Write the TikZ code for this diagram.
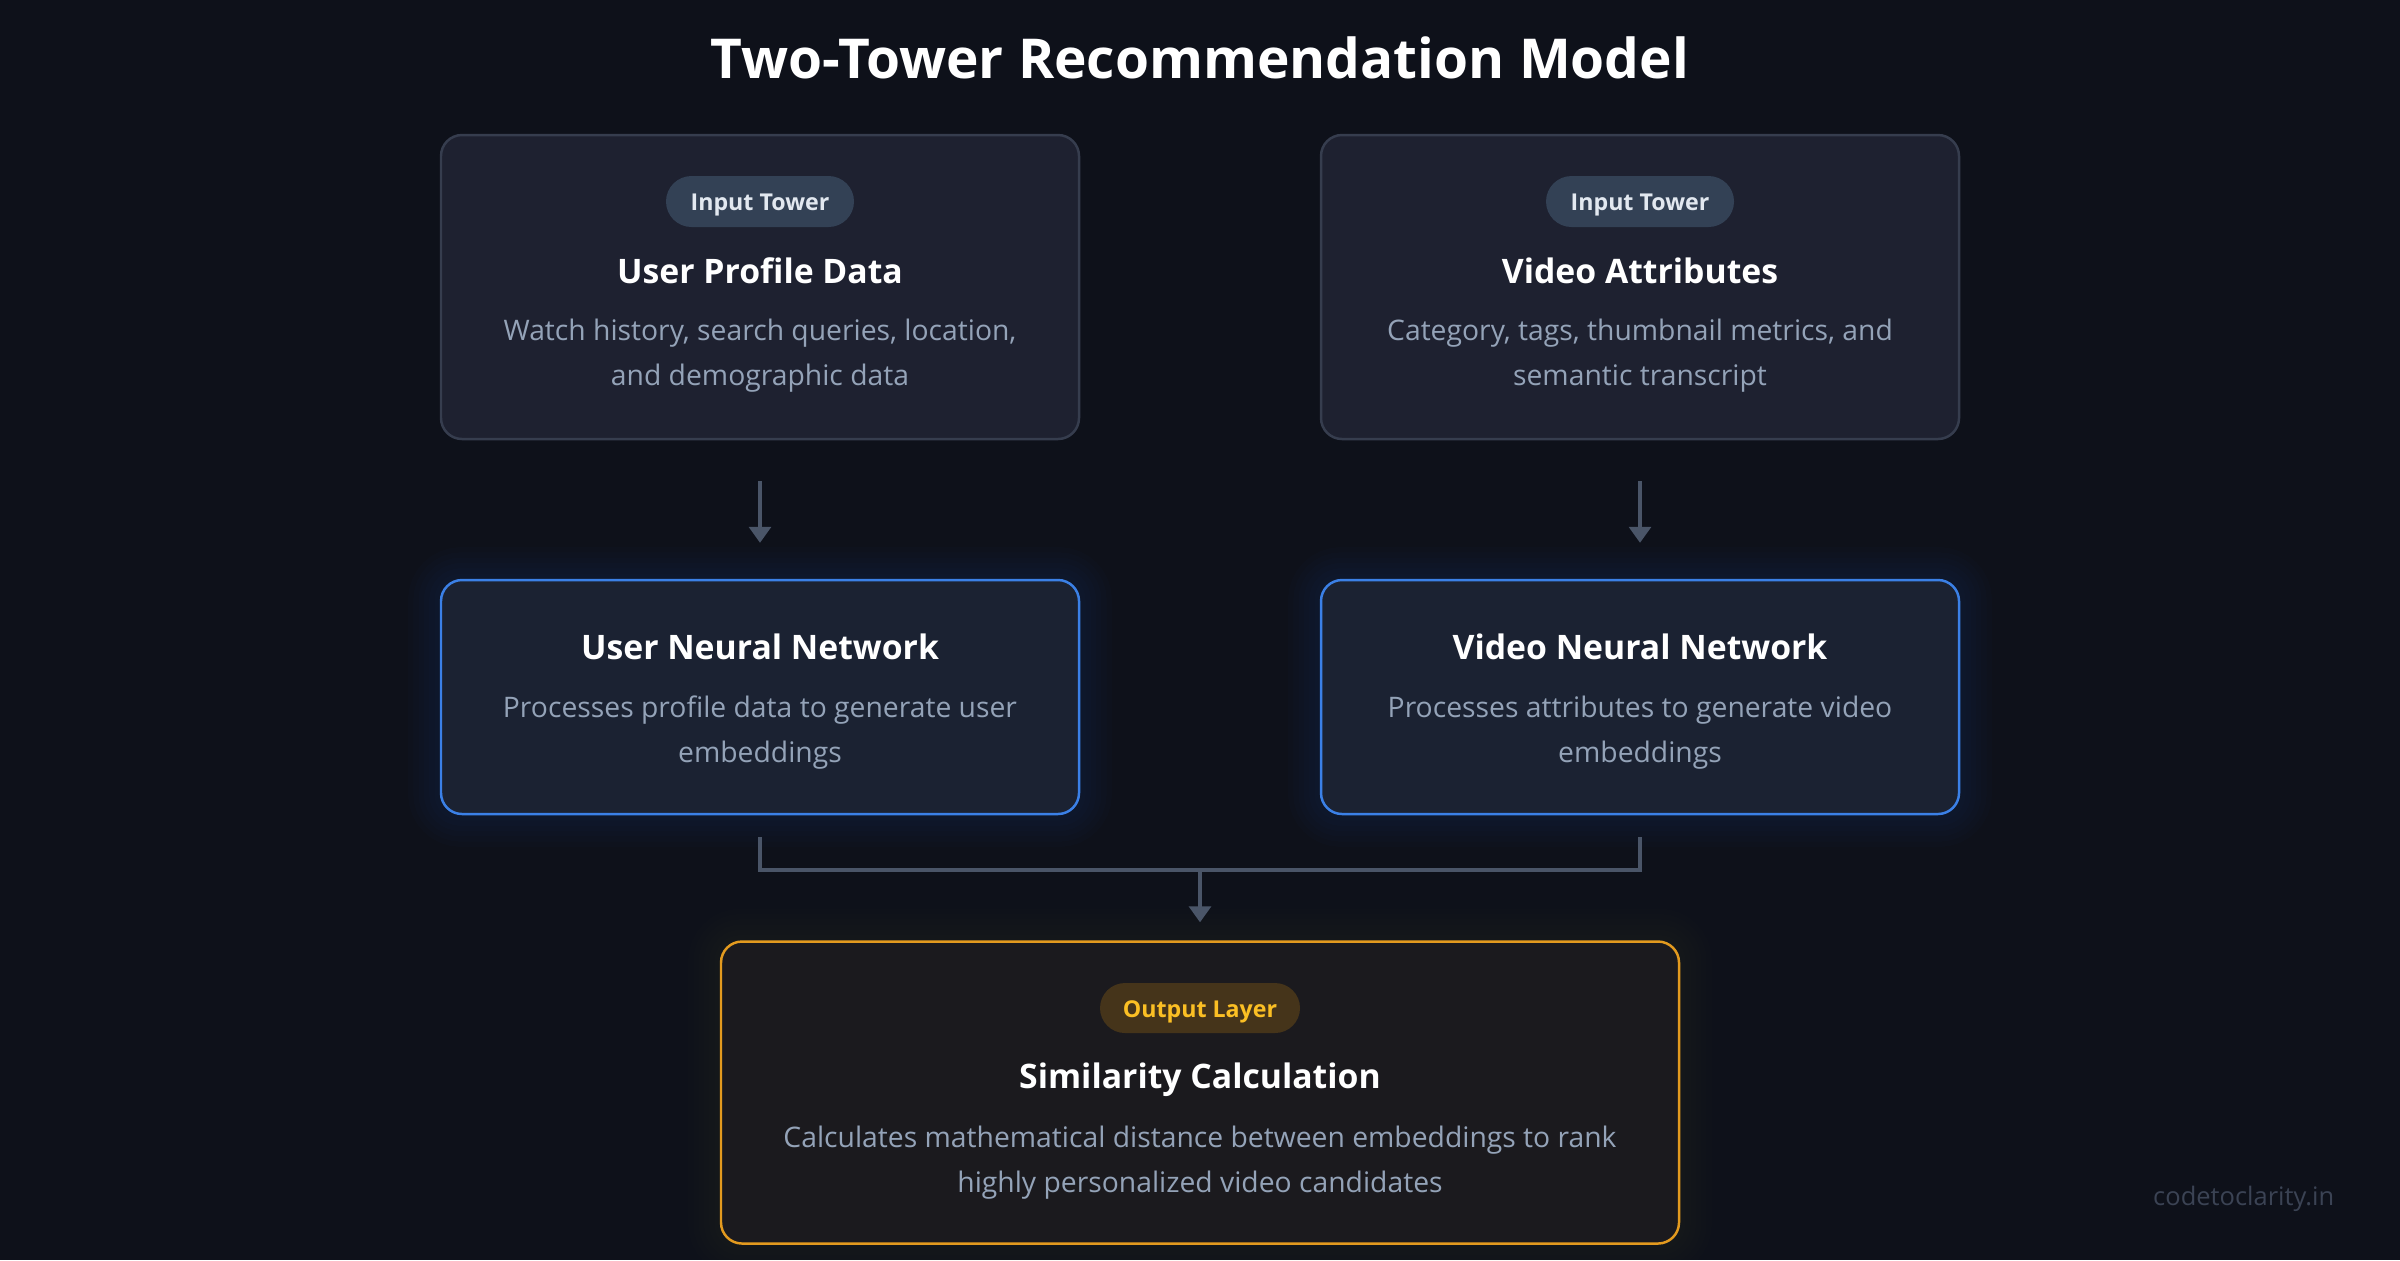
\documentclass[tikz,border=0pt]{standalone}
\usepackage{fontspec}
\setmainfont{Open Sans}
\usepackage{tikz}
\usetikzlibrary{positioning, arrows.meta}

\definecolor{bgdark}{HTML}{0E111A}
\definecolor{cardfill}{HTML}{1E2130}
\definecolor{cardline}{HTML}{363D4E}
\definecolor{netfill}{HTML}{1B2232}
\definecolor{netline}{HTML}{3B80E6}
\definecolor{outfill}{HTML}{1B1A1E}
\definecolor{amberline}{HTML}{E39A1F}
\definecolor{pillfill}{HTML}{334155}
\definecolor{pilltext}{HTML}{E2E8F0}
\definecolor{amberpill}{HTML}{45341A}
\definecolor{ambertext}{HTML}{FBBF24}
\definecolor{desctext}{HTML}{94A3B8}
\definecolor{linkgray}{HTML}{4A5568}
\definecolor{markgray}{HTML}{3B4354}

\pgfdeclarelayer{bglayer}
\pgfdeclarelayer{glowlayer}
\pgfsetlayers{bglayer,glowlayer,main}

\begin{document}
\begin{tikzpicture}[x=1cm, y=1cm,
  card/.style={draw=cardline, fill=cardfill, line width=0.7pt, rounded corners=2.1mm, minimum width=6.38cm, minimum height=3.04cm, inner sep=0pt},
  netcard/.style={card, draw=netline, fill=netfill, minimum height=2.34cm},
  outcard/.style={card, draw=amberline, fill=outfill, minimum width=9.58cm, minimum height=3.02cm},
  pill/.style={fill=pillfill, text=pilltext, rounded corners=2.55mm, minimum width=1.88cm, minimum height=0.51cm, inner sep=0pt, text height=1.85mm, text depth=0pt, font=\fontsize{6.6}{8}\selectfont\bfseries},
  heading/.style={anchor=base, inner sep=0pt, text=white, font=\fontsize{9.6}{12}\selectfont\bfseries},
  desc/.style={anchor=base, inner sep=0pt, text=desctext, font=\fontsize{8.05}{10}\selectfont},
  link/.style={draw=linkgray, line width=0.9pt},
  tip/.style={-{Triangle[width=2.2mm, length=1.6mm]}}
]

% --- canvas ---
\useasboundingbox (0,0) rectangle (24,-12.6);
\begin{pgfonlayer}{bglayer}
\fill[bgdark] (0,0) rectangle (24,-12.6);
\end{pgfonlayer}

\node[anchor=base, inner sep=0pt, text=white, font=\fontsize{15.65}{18}\selectfont\bfseries] (title) at (12.00,-0.78) {Two-Tower Recommendation Model};

% --- input towers ---
\node[card] (user) at (7.60,-2.87) {};
\node[pill] (userpill) at (7.60,-2.015) {Input Tower};
\node[heading] (userhead) at (7.60,-2.83) {User Profile Data};
\node[desc] (userdesca) at (7.60,-3.40) {Watch history, search queries, location,};
\node[desc] (userdescb) at (7.60,-3.85) {and demographic data};

\node[card] (video) at (16.40,-2.87) {};
\node[pill] (videopill) at (16.40,-2.015) {Input Tower};
\node[heading] (videohead) at (16.40,-2.83) {Video Attributes};
\node[desc] (videodesca) at (16.40,-3.40) {Category, tags, thumbnail metrics, and};
\node[desc] (videodescb) at (16.40,-3.85) {semantic transcript};

% --- neural networks ---
\node[netcard] (usernet) at (7.60,-6.97) {};
\node[heading] (usernethead) at (7.60,-6.59) {User Neural Network};
\node[desc] (usernetdesca) at (7.60,-7.17) {Processes profile data to generate user};
\node[desc] (usernetdescb) at (7.60,-7.62) {embeddings};

\node[netcard] (videonet) at (16.40,-6.97) {};
\node[heading] (videonethead) at (16.40,-6.59) {Video Neural Network};
\node[desc] (videonetdesca) at (16.40,-7.17) {Processes attributes to generate video};
\node[desc] (videonetdescb) at (16.40,-7.62) {embeddings};

% --- output layer ---
\node[outcard] (sim) at (12.00,-10.925) {};
\node[pill, fill=amberpill, text=ambertext, minimum width=2.0cm, minimum height=0.50cm, rounded corners=2.5mm] (simpill) at (12.00,-10.08) {Output Layer};
\node[heading] (simhead) at (12.00,-10.88) {Similarity Calculation};
\node[desc] (simdesca) at (12.00,-11.47) {Calculates mathematical distance between embeddings to rank};
\node[desc] (simdescb) at (12.00,-11.92) {highly personalized video candidates};

% --- glow ---
\begin{pgfonlayer}{glowlayer}
\foreach \g in {3,6,...,18} {
  \draw[netline, opacity=0.014, line width=\g pt, rounded corners=2.1mm] (usernet.south west) rectangle (usernet.north east);
  \draw[netline, opacity=0.014, line width=\g pt, rounded corners=2.1mm] (videonet.south west) rectangle (videonet.north east);
  \draw[amberline, opacity=0.008, line width=\g pt, rounded corners=2.1mm] (sim.south west) rectangle (sim.north east);
}
\end{pgfonlayer}

% --- connectors ---
\coordinate (merge) at (12.00,-8.70);
\draw[link, tip, shorten <=4.1mm, shorten >=3.6mm] (user) -- (usernet);
\draw[link, tip, shorten <=4.1mm, shorten >=3.6mm] (video) -- (videonet);
\draw[link] ([yshift=-2.2mm]usernet.south) |- (merge) -| ([yshift=-2.2mm]videonet.south);
\draw[link, tip, shorten >=1.8mm] (merge) -- (sim);

\node[anchor=base east, inner sep=0pt, text=markgray, font=\fontsize{7.25}{9}\selectfont] (mark) at (23.35,-12.05) {codetoclarity.in};
\end{tikzpicture}
\end{document}
